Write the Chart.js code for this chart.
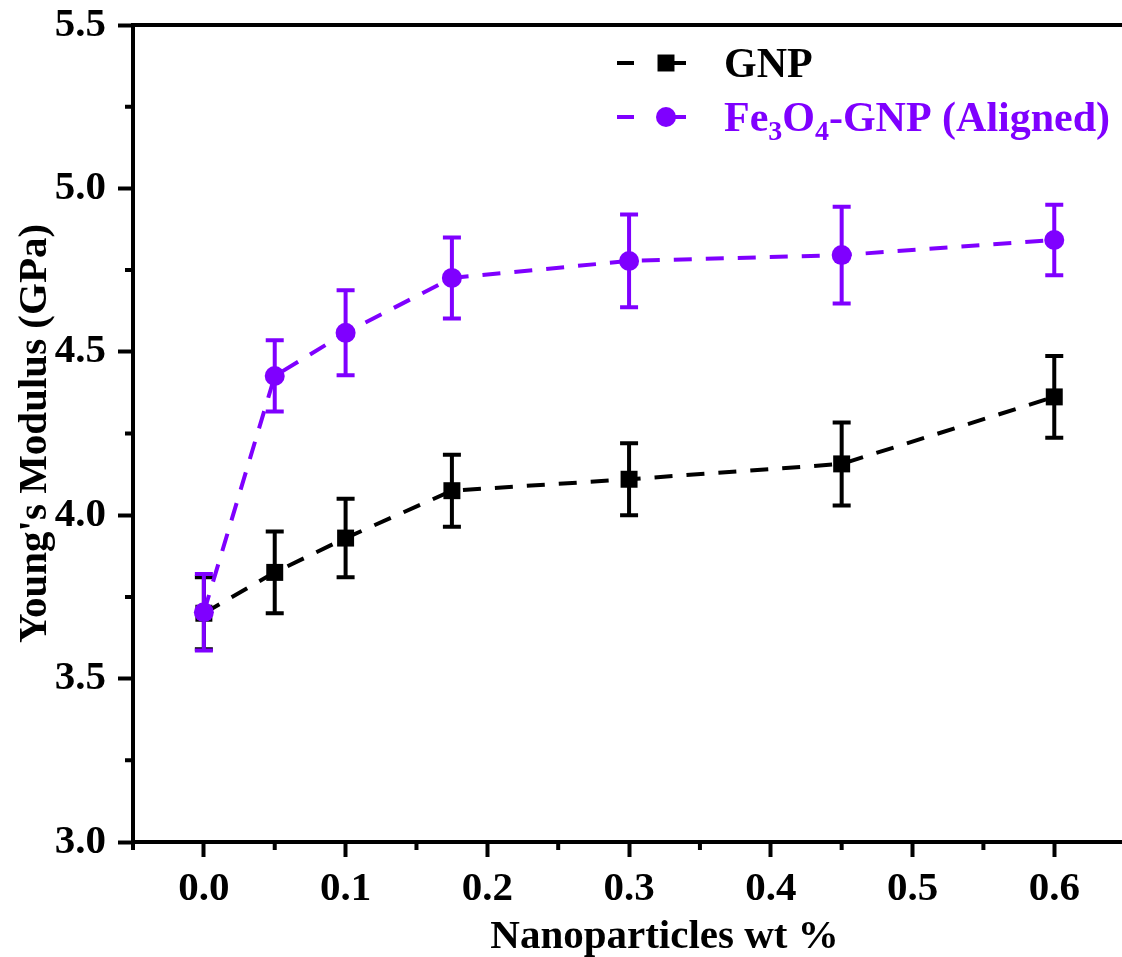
<!DOCTYPE html>
<html>
<head>
<meta charset="utf-8">
<title>Young's Modulus vs nanoparticle loading</title>
<script src="https://cdn.jsdelivr.net/npm/chart.js@4.4.1/dist/chart.umd.min.js"></script>
<style>
  html, body { margin: 0; padding: 0; background: #fff; overflow: hidden; }
  #wrap { width: 1208px; height: 957px; }
</style>
</head>
<body>
<div id="wrap"><canvas id="modulusChart" width="1208" height="957"></canvas></div>
<script>
// nanoparticle loading (wt %)
const loading = [0, 0.05, 0.1, 0.175, 0.3, 0.45, 0.6];

// Young's modulus (GPa) and standard deviation
const gnpModulus = [3.70, 3.825, 3.93, 4.075, 4.11, 4.157, 4.362];
const gnpError = [0.11, 0.125, 0.12, 0.11, 0.11, 0.127, 0.125];
const alignedModulus = [3.703, 4.426, 4.558, 4.726, 4.778, 4.796, 4.842];
const alignedError = [0.117, 0.109, 0.13, 0.124, 0.142, 0.148, 0.108];

const xTicks = [0.0, 0.1, 0.2, 0.3, 0.4, 0.5, 0.6];
const xMinorTicks = [-0.05, 0.05, 0.15, 0.25, 0.35, 0.45, 0.55, 0.65];
const yTicks = [3.0, 3.5, 4.0, 4.5, 5.0, 5.5];
const yMinorTicks = [3.25, 3.75, 4.25, 4.75, 5.25];

const BLACK = '#000000';
const PURPLE = '#7f00ff';
const FONT = '"Liberation Serif", "Times New Roman", serif';

const series = [
    { values: gnpModulus, errors: gnpError, color: BLACK },
    { values: alignedModulus, errors: alignedError, color: PURPLE }
];

function toPoints(values) {
    return loading.map((x, i) => ({ x: x, y: values[i] }));
}

// vertical error bars with flat caps, drawn under the lines and markers
const errorBars = {
    id: 'errorBars',
    beforeDatasetsDraw(chart) {
        const ctx = chart.ctx;
        const xs = chart.scales.x, ys = chart.scales.y;
        ctx.save();
        ctx.lineWidth = 4;
        series.forEach(s => {
            ctx.strokeStyle = s.color;
            loading.forEach((x, i) => {
                const px = xs.getPixelForValue(x);
                const top = ys.getPixelForValue(s.values[i] + s.errors[i]);
                const bot = ys.getPixelForValue(s.values[i] - s.errors[i]);
                ctx.beginPath();
                ctx.moveTo(px, top); ctx.lineTo(px, bot);
                ctx.moveTo(px - 9, top); ctx.lineTo(px + 9, top);
                ctx.moveTo(px - 9, bot); ctx.lineTo(px + 9, bot);
                ctx.stroke();
            });
        });
        ctx.restore();
    }
};

// top frame line, minor ticks, axis titles and legend
const decorations = {
    id: 'decorations',
    afterDraw(chart) {
        const ctx = chart.ctx;
        const area = chart.chartArea;
        const xs = chart.scales.x, ys = chart.scales.y;
        ctx.save();

        ctx.strokeStyle = BLACK;
        ctx.lineWidth = 4;
        ctx.beginPath();
        ctx.moveTo(area.left - 2, area.top);
        ctx.lineTo(area.right, area.top);
        ctx.stroke();

        ctx.beginPath();
        xMinorTicks.forEach(v => {
            const px = xs.getPixelForValue(v);
            ctx.moveTo(px, area.bottom);
            ctx.lineTo(px, area.bottom + 8);
        });
        yMinorTicks.forEach(v => {
            const py = ys.getPixelForValue(v);
            ctx.moveTo(area.left, py);
            ctx.lineTo(area.left - 8, py);
        });
        ctx.stroke();

        // axis titles
        ctx.fillStyle = BLACK;
        ctx.font = 'bold 41px ' + FONT;
        ctx.textAlign = 'center';
        ctx.textBaseline = 'alphabetic';
        ctx.fillText('Nanoparticles wt %', (area.left + area.right) / 2, 948);
        ctx.save();
        ctx.translate(46, (area.top + area.bottom) / 2);
        ctx.rotate(-Math.PI / 2);
        ctx.fillText("Young's Modulus (GPa)", 0, 0);
        ctx.restore();

        // legend
        const rows = [
            { y: 63, color: BLACK, style: 'rect', parts: [['GNP', false]] },
            { y: 117, color: PURPLE, style: 'circle',
              parts: [['Fe', false], ['3', true], ['O', false], ['4', true], ['-GNP (Aligned)', false]] }
        ];
        rows.forEach(r => {
            ctx.strokeStyle = r.color;
            ctx.fillStyle = r.color;
            ctx.lineWidth = 4;
            ctx.beginPath();
            ctx.moveTo(617, r.y);
            ctx.lineTo(634, r.y);
            ctx.moveTo(658, r.y);
            ctx.lineTo(686, r.y);
            ctx.stroke();
            Chart.helpers.drawPoint(ctx, {
                pointStyle: r.style,
                radius: r.style === 'rect' ? 12 : 10,
                borderWidth: 0
            }, 666, r.y);
            let tx = 724;
            ctx.textAlign = 'left';
            r.parts.forEach(([text, sub]) => {
                ctx.font = 'bold ' + (sub ? 28 : 42) + 'px ' + FONT;
                ctx.fillText(text, tx, r.y + 14 + (sub ? 9 : 0));
                tx += ctx.measureText(text).width;
            });
        });
        ctx.restore();
    }
};

const tickFont = { family: FONT, size: 41, weight: 'bold' };

new Chart(document.getElementById('modulusChart'), {
    type: 'line',
    data: {
        datasets: [
            {
                label: 'GNP',
                data: toPoints(gnpModulus),
                borderColor: BLACK,
                backgroundColor: BLACK,
                borderWidth: 4,
                borderDash: [18, 14],
                pointStyle: 'rect',
                pointRadius: 12,
                pointBorderWidth: 0,
                order: 2
            },
            {
                label: 'Fe3O4-GNP (Aligned)',
                data: toPoints(alignedModulus),
                borderColor: PURPLE,
                backgroundColor: PURPLE,
                borderWidth: 4,
                borderDash: [18, 14],
                pointStyle: 'circle',
                pointRadius: 10,
                pointBorderWidth: 0,
                order: 1
            }
        ]
    },
    options: {
        responsive: false,
        animation: false,
        devicePixelRatio: 1,
        layout: { padding: { top: 25, right: 4, bottom: 0, left: 0 } },
        plugins: {
            legend: { display: false },
            tooltip: { enabled: false }
        },
        scales: {
            x: {
                type: 'linear',
                min: -0.05,
                max: 0.7,
                afterBuildTicks: scale => { scale.ticks = xTicks.map(v => ({ value: v })); },
                afterFit: scale => {
                    scale.height = 115;
                    scale.paddingLeft = 0;
                    scale.paddingRight = 0;
                },
                ticks: {
                    callback: v => v.toFixed(1),
                    font: tickFont,
                    color: BLACK,
                    padding: 8,
                    maxRotation: 0,
                    autoSkip: false
                },
                grid: { drawOnChartArea: false, tickLength: 15, tickWidth: 4, tickColor: BLACK },
                border: { display: true, width: 4, color: BLACK }
            },
            y: {
                type: 'linear',
                min: 3.0,
                max: 5.5,
                afterBuildTicks: scale => { scale.ticks = yTicks.map(v => ({ value: v })); },
                afterFit: scale => {
                    scale.width = 133;
                    scale.paddingTop = 0;
                    scale.paddingBottom = 0;
                },
                ticks: {
                    callback: v => v.toFixed(1),
                    font: tickFont,
                    color: BLACK,
                    padding: 12
                },
                grid: { drawOnChartArea: false, tickLength: 15, tickWidth: 4, tickColor: BLACK },
                border: { display: true, width: 4, color: BLACK }
            }
        }
    },
    plugins: [errorBars, decorations]
});
</script>
</body>
</html>
